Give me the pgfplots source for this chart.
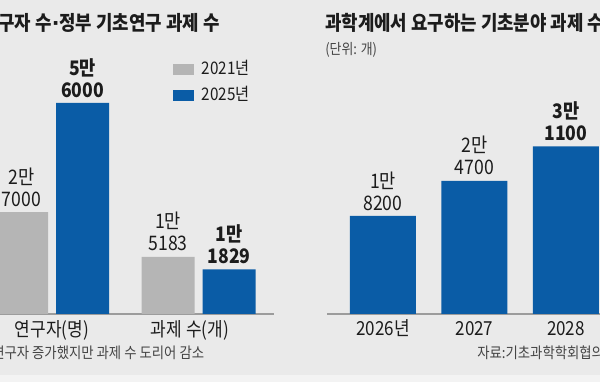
\documentclass[border=0pt]{standalone}
\usepackage{fontspec}
\setmainfont{Noto Sans CJK KR}[FakeStretch=0.88]
\newfontfamily\dv{DejaVu Sans}
\usepackage{pgfplots}
\pgfplotsset{compat=1.18}
\definecolor{bg}{HTML}{EAEAEA}
\definecolor{bgl}{HTML}{F3F3F3}
\definecolor{barblue}{HTML}{0A5CA6}
\definecolor{bargray}{HTML}{B5B5B5}
\definecolor{txt}{HTML}{1C1C1C}
\definecolor{subtxt}{HTML}{444444}
\definecolor{base}{HTML}{9C9C9C}
\pgfplotsset{
  mybars/.style={
    scale only axis, ybar, ymin=0,
    axis x line*=bottom, axis y line=none, ytick=\empty,
    axis line style={base, line width=1.1pt},
    major tick length=0pt, xtick style={draw=none},
    clip=false,
    xticklabel style={font=\fontsize{14.5pt}{16pt}\selectfont, text=txt, anchor=base, inner sep=0pt},
    nodes near coords, point meta=explicit symbolic,
    every node near coord/.append style={align=center, font=\fontsize{15pt}{16.5pt}\selectfont,
      text=txt, inner sep=0pt, anchor=south, yshift=4pt},
  }
}
\begin{document}
\begin{tikzpicture}
\path[use as bounding box] (0,0) rectangle (450pt,286.5pt);
\clip (0,0) rectangle (450pt,286.5pt);
\fill[bg] (0,0) rectangle (450pt,286.5pt);
\fill[bgl] (0,0) rectangle (450pt,5.25pt);

% titles
\node[anchor=base west, inner sep=0pt, text=txt, font=\bfseries\fontsize{15.2pt}{17pt}\selectfont] at (-13.6pt,263.6pt) {연구자 수{\dv\bfseries ·}정부 기초연구 과제 수};
\node[anchor=base west, inner sep=0pt, text=txt, font=\bfseries\fontsize{15.2pt}{17pt}\selectfont] at (243.75pt,263.6pt) {과학계에서 요구하는 기초분야 과제 수};
\node[anchor=base west, inner sep=0pt, text=subtxt, font=\fontsize{11pt}{13pt}\selectfont] at (243.75pt,245.25pt) {(단위: 개)};
% footnotes
\node[anchor=base west, inner sep=0pt, text=subtxt, font=\fontsize{11.4pt}{13pt}\selectfont] at (-6pt,17.6pt) {연구자 증가했지만 과제 수 도리어 감소};
\node[anchor=base west, inner sep=0pt, text=subtxt, font=\fontsize{11.4pt}{13pt}\selectfont] at (357.75pt,17.6pt) {자료:기초과학학회협의회};

% left chart
\begin{axis}[mybars, at={(0pt,51pt)}, anchor=south west,
  width=205.5pt, height=165pt,
  xmin=-0.355, xmax=1.515, ymax=58360,
  bar width=39.75pt,
  xtick={0,1}, xticklabels={연구자(명),{\kern-13pt 과제 수(개)}},
  xticklabel style={yshift=-17pt},
  legend style={at={(rel axis cs:0.631,1.15)}, anchor=north west, draw=none, fill=none,
    inner sep=0pt, row sep=6.5pt, font=\fontsize{13pt}{13pt}\selectfont,
    nodes={inner sep=0pt, text height=9.75pt, text depth=3.25pt, text=txt}},
  legend cell align=left,
  legend image code/.code={\fill[#1] (0pt,-4.125pt) rectangle (15.75pt,4.125pt); \path (21.5pt,0pt);},
]
\addplot[fill=bargray, draw=none, bar shift=-22.875pt] coordinates {(0,27000) [2만\\7000] (1,15183) [1만\\5183]};
\addplot[fill=barblue, draw=none, bar shift=22.875pt] coordinates {(0,56000) [\bfseries 5만\\\bfseries 6000] (1,11829) [\bfseries 1만\\\bfseries 1829]};
\legend{2021년,2025년}
\end{axis}

% right chart
\begin{axis}[mybars, at={(245.25pt,51pt)}, anchor=south west,
  width=204.75pt, height=165pt,
  xmin=-0.612, xmax=2.372, ymax=40810,
  bar width=49.5pt,
  xtick={0,1,2}, xticklabels={2026년,2027,2028},
  xticklabel style={yshift=-16pt},
]
\addplot[fill=barblue, draw=none, bar shift=0pt] coordinates {(0,18200) [1만\\8200] (1,24700) [2만\\4700] (2,31100) [\bfseries 3만\\\bfseries 1100]};
\end{axis}
\end{tikzpicture}
\end{document}
